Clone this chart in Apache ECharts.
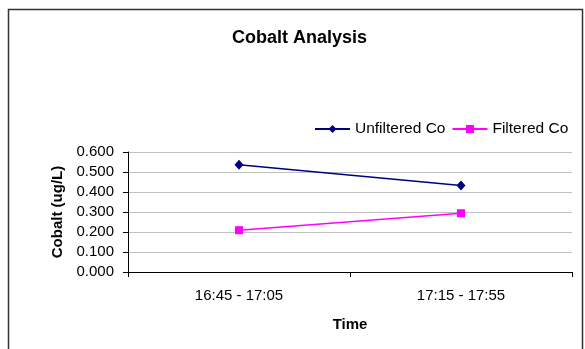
<!DOCTYPE html>
<html>
<head>
<meta charset="utf-8">
<script src="https://cdn.jsdelivr.net/npm/echarts@6/dist/echarts.min.js"></script>
<style>
html,body{margin:0;padding:0;background:#fff;}
#chart{width:585px;height:349px;}
</style>
</head>
<body>
<div id="chart"></div>
<script>
const categories = ['16:45 - 17:05', '17:15 - 17:55'];
const unfilteredCo = [0.536, 0.433];
const filteredCo = [0.209, 0.294];
const yTicks = [0, 0.1, 0.2, 0.3, 0.4, 0.5, 0.6];

const FONT = '"Liberation Sans", Arial, sans-serif';
const chart = echarts.init(document.getElementById('chart'), null, {renderer: 'canvas'});
chart.setOption({
  animation: false,
  backgroundColor: '#fff',
  graphic: [{
    type: 'rect',
    shape: {x: 8.5, y: 9.5, width: 574, height: 360},
    style: {fill: 'none', stroke: '#333', lineWidth: 1.5},
    silent: true
  }],
  title: {
    text: 'Cobalt Analysis',
    left: 227, top: 24,
    textStyle: {fontFamily: FONT, fontSize: 18, fontWeight: 'bold', color: '#000'}
  },
  legend: {
    left: 314, top: 121, padding: 0,
    itemWidth: 35, itemHeight: 10, itemGap: 6,
    textStyle: {fontFamily: FONT, fontSize: 15.5, color: '#000'},
    data: ['Unfiltered Co', 'Filtered Co']
  },
  grid: {left: 128, top: 152, width: 444, height: 120, containLabel: false},
  xAxis: {
    type: 'category',
    data: categories,
    boundaryGap: true,
    name: 'Time',
    nameLocation: 'middle',
    nameGap: 45,
    nameTextStyle: {fontFamily: FONT, fontSize: 15, fontWeight: 'bold', color: '#000'},
    axisLine: {lineStyle: {color: '#000', width: 1}},
    axisTick: {show: true, length: 5, inside: false, lineStyle: {color: '#000'}},
    axisLabel: {fontFamily: FONT, fontSize: 15, color: '#000', margin: 16},
    splitLine: {show: false}
  },
  yAxis: {
    type: 'value',
    min: yTicks[0], max: yTicks[yTicks.length - 1], interval: 0.1,
    name: 'Cobalt (ug/L)',
    nameLocation: 'middle',
    nameGap: 63,
    nameTextStyle: {fontFamily: FONT, fontSize: 15, fontWeight: 'bold', color: '#000'},
    axisLine: {show: true, lineStyle: {color: '#000', width: 1}},
    axisTick: {show: true, length: 5, lineStyle: {color: '#000'}},
    axisLabel: {fontFamily: FONT, fontSize: 15, color: '#000', margin: 14,
      formatter: v => v.toFixed(3)},
    splitLine: {show: true, lineStyle: {color: '#c0c0c0', width: 1}}
  },
  series: [{
    name: 'Unfiltered Co',
    type: 'line',
    data: unfilteredCo,
    symbol: 'diamond',
    symbolSize: [9, 10],
    itemStyle: {color: '#000080'},
    lineStyle: {color: '#000080', width: 1.5}
  }, {
    name: 'Filtered Co',
    type: 'line',
    data: filteredCo,
    symbol: 'rect',
    symbolSize: 8,
    itemStyle: {color: '#ff00ff'},
    lineStyle: {color: '#ff00ff', width: 1.5}
  }]
});
</script>
</body>
</html>
